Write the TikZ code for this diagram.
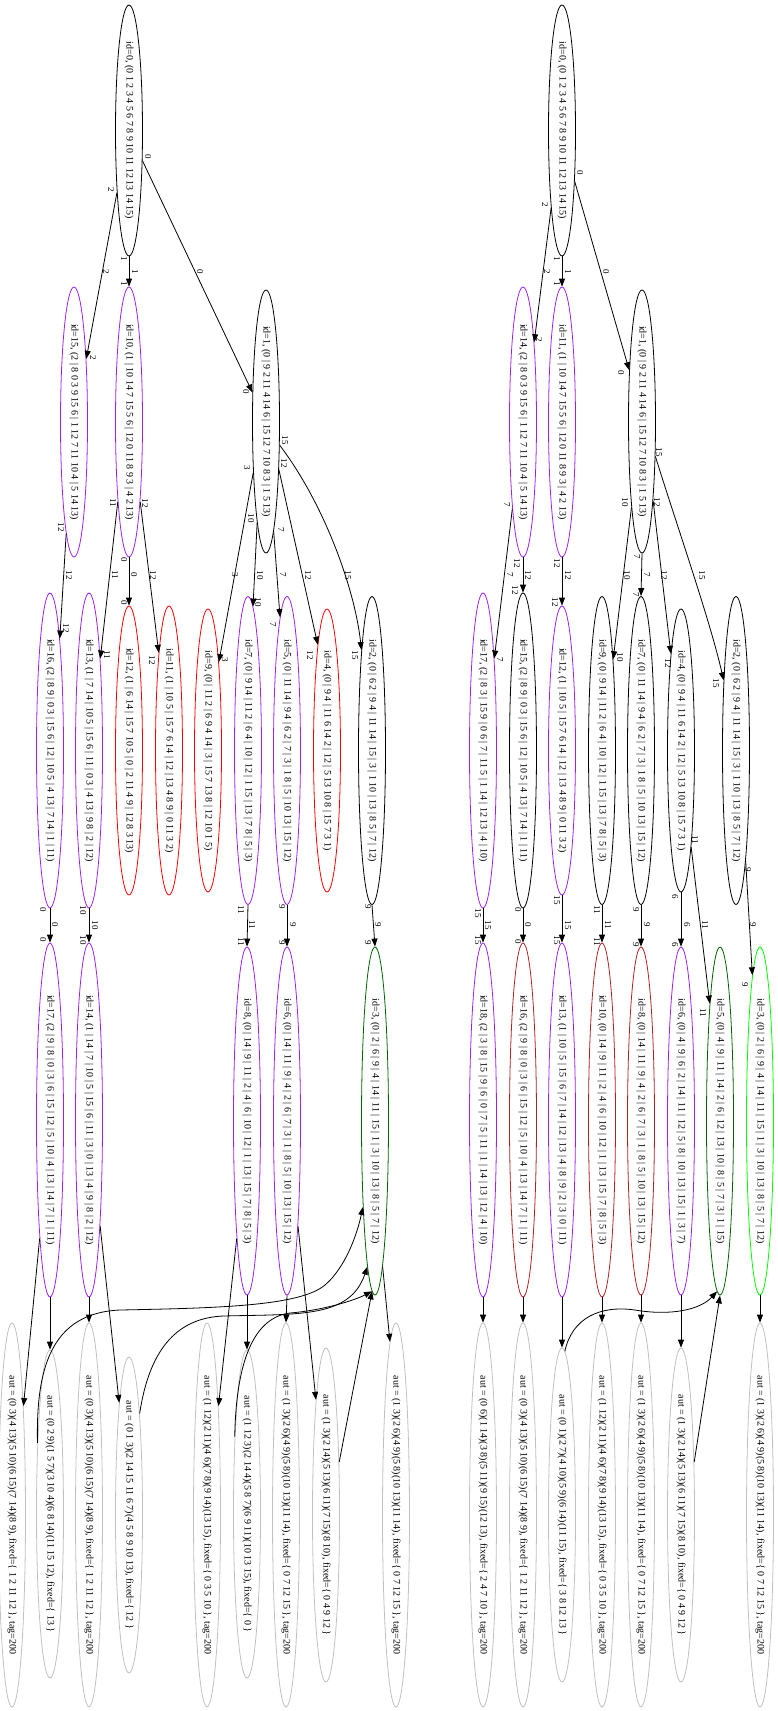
\documentclass[tikz,border=0pt]{standalone}
\usepackage{fontspec}
\setmainfont{Liberation Serif}
\usetikzlibrary{shapes.geometric,arrows.meta}

\definecolor{gvpurple}{HTML}{A020F0}
\definecolor{gvred}{HTML}{FF0000}
\definecolor{gvfire}{HTML}{B22222}
\definecolor{gvdkgreen}{HTML}{006400}
\definecolor{gvgreen}{HTML}{00FF00}
\definecolor{gvgray}{HTML}{C0C0C0}

\tikzset{
  st/.style={ellipse, draw, line width=0.8pt, inner sep=0pt, minimum width=27pt},
  txt/.style={rotate=-90, inner sep=0pt, font=\fontsize{10}{12}\selectfont},
  lab/.style={rotate=-90, inner sep=0pt, font=\fontsize{9}{11}\selectfont},
  edg/.style={line width=0.8pt, -{Triangle[length=8pt,width=6pt]}},
}

% ellipse with its rotated caption: name, colour, x, y, height, text
\newcommand{\gvnode}[6]{%
  \node[st,draw=#2,minimum height=#5] (#1) at (#3,#4) {};
  \node[txt] (#1-txt) at (#1.center) {#6};}

% tail, middle and head labels of one edge: name, text, tx, ty, mx, my, hx, hy
\newcommand{\gvlabels}[8]{%
  \node[lab] (#1-t) at (#3,#4) {#2};
  \node[lab] (#1-m) at (#5,#6) {#2};
  \node[lab] (#1-h) at (#7,#8) {#2};}

\begin{document}
\begin{tikzpicture}[x=1pt,y=-1pt]
\useasboundingbox (0,0) rectangle (777,1711);

% ---------------- left tree ----------------
\gvnode{la0}{black}{129}{130.5}{251}{id=0, (0 1 2 3 4 5 6 7 8 9 10 11 12 13 14 15)}

\gvnode{la15}{gvpurple}{74}{422}{270}{id=15, (2 | 8 0 3 9 15 6 | 1 12 7 11 10 4 | 5 14 13)}
\gvnode{la10}{gvpurple}{129}{422}{270}{id=10, (1 | 10 14 7 15 5 6 | 12 0 11 8 9 3 | 4 2 13)}
\gvnode{la1}{black}{266}{421.5}{263}{id=1, (0 | 9 2 11 4 14 6 | 15 12 7 10 8 3 | 1 5 13)}

\gvnode{la16}{gvpurple}{50}{750.5}{315}{id=16, (2 | 8 9 | 0 3 | 15 6 | 12 | 10 5 | 4 13 | 7 14 | 1 | 11)}
\gvnode{la13}{gvpurple}{89}{750.5}{315}{id=13, (1 | 7 14 | 10 5 | 15 6 | 11 | 0 3 | 4 13 | 9 8 | 2 | 12)}
\gvnode{la12}{gvred}{129}{750.5}{289}{id=12, (1 | 6 14 | 15 7 10 5 | 0 | 2 11 4 9 | 12 8 3 13)}
\gvnode{la11}{gvred}{169}{750.5}{289}{id=11, (1 | 10 5 | 15 7 6 14 | 12 | 13 4 8 9 | 0 11 3 2)}
\gvnode{la9}{gvred}{208}{750.5}{283}{id=9, (0 | 11 2 | 6 9 4 14 | 3 | 15 7 13 8 | 12 10 1 5)}
\gvnode{la7}{gvpurple}{248}{750.5}{308}{id=7, (0 | 9 14 | 11 2 | 6 4 | 10 | 12 | 1 15 | 13 | 7 8 | 5 | 3)}
\gvnode{la5}{gvpurple}{287}{750.5}{308}{id=5, (0 | 11 14 | 9 4 | 6 2 | 7 | 3 | 1 8 | 5 | 10 13 | 15 | 12)}
\gvnode{la4}{gvred}{327}{750.5}{283}{id=4, (0 | 9 4 | 11 6 14 2 | 12 | 5 13 10 8 | 15 7 3 1)}
\gvnode{la2}{black}{372}{750.5}{308}{id=2, (0 | 6 2 | 9 4 | 11 14 | 15 | 3 | 1 10 | 13 | 8 5 | 7 | 12)}

\gvnode{la17}{gvpurple}{50}{1120}{354}{id=17, (2 | 9 | 8 | 0 | 3 | 6 | 15 | 12 | 5 | 10 | 4 | 13 | 14 | 7 | 1 | 11)}
\gvnode{la14}{gvpurple}{89}{1120}{354}{id=14, (1 | 14 | 7 | 10 | 5 | 15 | 6 | 11 | 3 | 0 | 13 | 4 | 9 | 8 | 2 | 12)}
\gvnode{la8}{gvpurple}{247}{1121}{348}{id=8, (0 | 14 | 9 | 11 | 2 | 4 | 6 | 10 | 12 | 1 | 13 | 15 | 7 | 8 | 5 | 3)}
\gvnode{la6}{gvpurple}{287}{1121}{348}{id=6, (0 | 14 | 11 | 9 | 4 | 2 | 6 | 7 | 3 | 1 | 8 | 5 | 10 | 13 | 15 | 12)}
\gvnode{la3}{gvdkgreen}{375}{1121}{348}{id=3, (0 | 2 | 6 | 9 | 4 | 14 | 11 | 15 | 1 | 3 | 10 | 13 | 8 | 5 | 7 | 12)}

\gvnode{lx1}{gvgray}{12}{1515}{384}{aut = (0 3)(4 13)(5 10)(6 15)(7 14)(8 9), fixed=\{ 1 2 11 12 \}, tag=200}
\gvnode{lx2}{gvgray}{50}{1514}{328}{aut = (0 2 9)(1 5 7)(3 10 4)(6 8 14)(11 15 12), fixed=\{ 13 \}}
\gvnode{lx3}{gvgray}{89}{1515}{384}{aut = (0 3)(4 13)(5 10)(6 15)(7 14)(8 9), fixed=\{ 1 2 11 12 \}, tag=200}
\gvnode{lx4}{gvgray}{129}{1515}{316}{aut = (0 1 3)(2 14 15 11 6 7)(4 5 8 9 10 13), fixed=\{ 12 \}}
\gvnode{lx5}{gvgray}{207}{1515}{384}{aut = (1 12)(2 11)(4 6)(7 8)(9 14)(13 15), fixed=\{ 0 3 5 10 \}, tag=200}
\gvnode{lx6}{gvgray}{247}{1514}{328}{aut = (1 12 3)(2 14 4)(5 8 7)(6 9 11)(10 13 15), fixed=\{ 0 \}}
\gvnode{lx7}{gvgray}{286}{1515}{384}{aut = (1 3)(2 6)(4 9)(5 8)(10 13)(11 14), fixed=\{ 0 7 12 15 \}, tag=200}
\gvnode{lx8}{gvgray}{326}{1515}{334}{aut = (1 3)(2 14)(5 13)(6 11)(7 15)(8 10), fixed=\{ 0 4 9 12 \}}
\gvnode{lx9}{gvgray}{396}{1515}{384}{aut = (1 3)(2 6)(4 9)(5 8)(10 13)(11 14), fixed=\{ 0 7 12 15 \}, tag=200}

% tree edges
\draw[edg] (la0.south) -- (la10.north);
\draw[edg] (la0.-101) -- (la15.79.5);
\draw[edg] (la0.-66) -- (la1.115);
\draw[edg] (la15.-94.6) -- (la16.85.9);
\draw[edg] (la10.-98) -- (la13.83.4);
\draw[edg] (la10.south) -- (la12.north);
\draw[edg] (la10.-82) -- (la11.96.4);
\draw[edg] (la1.-104.5) -- (la9.83.8);
\draw[edg] (la1.-95.8) -- (la7.88.6);
\draw[edg] (la1.-86.2) -- (la5.93.6);
\draw[edg] (la1.-75.1) -- (la4.95.7);
\draw[edg] (la1.-60.5) .. controls (325,505) and (355,590) .. (la2.96.1);
\draw[edg] (la16.south) -- (la17.north);
\draw[edg] (la13.south) -- (la14.north);
\draw[edg] (la7.south) -- (la8.north);
\draw[edg] (la5.south) -- (la6.north);
\draw[edg] (la2.south) -- (la3.north);

\draw[edg] (la17.-95.9) -- (lx1.84.2);
\draw[edg] (la17.south) -- (lx2.north);
\draw[edg] (la14.south) -- (lx3.north);
\draw[edg] (la14.-84.3) -- (lx4.95.7);
\draw[edg] (la8.-95.9) -- (lx5.84.2);
\draw[edg] (la8.south) -- (lx6.north);
\draw[edg] (la6.south) -- (lx7.north);
\draw[edg] (la6.-84.2) -- (lx8.95.6);
\draw[edg] (la3.-87.8) -- (lx9.92.8);

% automorphism edges back to the leaf
\draw[edg] (lx2.100.6) .. controls (36,1370) and (50,1313) .. (120,1310)
  .. controls (220,1308) and (300,1306) .. (325,1285)
  .. controls (345,1268) and (357,1235) .. (la3.-98.6);
\draw[edg] (lx4.84.7) .. controls (150,1345) and (180,1318) .. (223,1316)
  .. controls (300,1314) and (350,1318) .. (la3.-93.7);
\draw[edg] (lx6.99.8) .. controls (236,1370) and (250,1318) .. (290,1313)
  .. controls (325,1310) and (355,1300) .. (la3.-91.8);
\draw[edg] (lx8.76.2) -- (la3.-91.5);

% edge labels
\gvlabels{e1}{1}{124}{259}{135}{272}{124}{284}
\gvlabels{e2}{2}{111}{190}{106}{272}{93}{358}
\gvlabels{e3}{0}{148}{157}{200}{272}{246}{392}
\gvlabels{e4}{12}{61}{527}{69}{575}{66}{628}
\gvlabels{e5}{11}{113}{503}{115}{575}{107}{655}
\gvlabels{e6}{0}{124}{560}{134}{575}{124}{603}
\gvlabels{e7}{12}{145}{503}{153}{575}{152}{660}
\gvlabels{e8}{3}{247}{468}{235}{575}{225}{660}
\gvlabels{e9}{10}{251}{518}{260}{575}{258}{602}
\gvlabels{e10}{7}{281}{530}{283}{575}{273}{625}
\gvlabels{e11}{12}{284}{463}{308}{575}{310}{655}
\gvlabels{e12}{15}{285}{440}{348}{575}{355}{655}
\gvlabels{e13}{0}{43}{910}{55}{925}{43}{940}
\gvlabels{e14}{10}{83}{910}{95}{925}{83}{940}
\gvlabels{e15}{11}{241}{910}{252}{925}{241}{942}
\gvlabels{e16}{9}{282}{907}{293}{925}{282}{943}
\gvlabels{e17}{9}{368}{907}{378}{925}{368}{943}

% ---------------- right tree ----------------
\gvnode{ra0}{black}{562}{130.5}{251}{id=0, (0 1 2 3 4 5 6 7 8 9 10 11 12 13 14 15)}

\gvnode{ra14}{gvpurple}{523}{422}{270}{id=14, (2 | 8 0 3 9 15 6 | 1 12 7 11 10 4 | 5 14 13)}
\gvnode{ra11}{gvpurple}{562}{422}{270}{id=11, (1 | 10 14 7 15 5 6 | 12 0 11 8 9 3 | 4 2 13)}
\gvnode{ra1}{black}{642}{421.5}{263}{id=1, (0 | 9 2 11 4 14 6 | 15 12 7 10 8 3 | 1 5 13)}

\gvnode{ra17}{gvpurple}{483}{750.5}{315}{id=17, (2 | 8 3 | 15 9 | 0 6 | 7 | 11 5 | 1 14 | 12 13 | 4 | 10)}
\gvnode{ra15}{black}{523}{750.5}{315}{id=15, (2 | 8 9 | 0 3 | 15 6 | 12 | 10 5 | 4 13 | 7 14 | 1 | 11)}
\gvnode{ra12}{gvpurple}{562}{750.5}{289}{id=12, (1 | 10 5 | 15 7 6 14 | 12 | 13 4 8 9 | 0 11 3 2)}
\gvnode{ra9}{black}{602}{750.5}{308}{id=9, (0 | 9 14 | 11 2 | 6 4 | 10 | 12 | 1 15 | 13 | 7 8 | 5 | 3)}
\gvnode{ra7}{black}{641}{750.5}{308}{id=7, (0 | 11 14 | 9 4 | 6 2 | 7 | 3 | 1 8 | 5 | 10 13 | 15 | 12)}
\gvnode{ra4}{black}{681}{750.5}{283}{id=4, (0 | 9 4 | 11 6 14 2 | 12 | 5 13 10 8 | 15 7 3 1)}
\gvnode{ra2}{black}{736}{750.5}{308}{id=2, (0 | 6 2 | 9 4 | 11 14 | 15 | 3 | 1 10 | 13 | 8 5 | 7 | 12)}

\gvnode{ra18}{gvpurple}{483}{1120}{354}{id=18, (2 | 3 | 8 | 15 | 9 | 6 | 0 | 7 | 5 | 11 | 1 | 14 | 13 | 12 | 4 | 10)}
\gvnode{ra16}{gvfire}{523}{1120}{354}{id=16, (2 | 9 | 8 | 0 | 3 | 6 | 15 | 12 | 5 | 10 | 4 | 13 | 14 | 7 | 1 | 11)}
\gvnode{ra13}{gvpurple}{562}{1120}{354}{id=13, (1 | 10 | 5 | 15 | 6 | 7 | 14 | 12 | 13 | 4 | 8 | 9 | 2 | 3 | 0 | 11)}
\gvnode{ra10}{gvfire}{602}{1120}{354}{id=10, (0 | 14 | 9 | 11 | 2 | 4 | 6 | 10 | 12 | 1 | 13 | 15 | 7 | 8 | 5 | 3)}
\gvnode{ra8}{gvfire}{641}{1121}{348}{id=8, (0 | 14 | 11 | 9 | 4 | 2 | 6 | 7 | 3 | 1 | 8 | 5 | 10 | 13 | 15 | 12)}
\gvnode{ra6}{gvpurple}{681}{1121}{348}{id=6, (0 | 4 | 9 | 6 | 2 | 14 | 11 | 12 | 5 | 8 | 10 | 13 | 15 | 1 | 3 | 7)}
\gvnode{ra5}{gvdkgreen}{720}{1121}{348}{id=5, (0 | 4 | 9 | 11 | 14 | 2 | 6 | 12 | 13 | 10 | 8 | 5 | 7 | 3 | 1 | 15)}
\gvnode{ra3}{gvgreen}{760}{1121}{348}{id=3, (0 | 2 | 6 | 9 | 4 | 14 | 11 | 15 | 1 | 3 | 10 | 13 | 8 | 5 | 7 | 12)}

\gvnode{rx1}{gvgray}{483}{1515}{384}{aut = (0 6)(1 14)(3 8)(5 11)(9 15)(12 13), fixed=\{ 2 4 7 10 \}, tag=200}
\gvnode{rx2}{gvgray}{523}{1515}{384}{aut = (0 3)(4 13)(5 10)(6 15)(7 14)(8 9), fixed=\{ 1 2 11 12 \}, tag=200}
\gvnode{rx3}{gvgray}{562}{1515}{334}{aut = (0 1)(2 7)(4 10)(5 9)(6 14)(11 15), fixed=\{ 3 8 12 13 \}}
\gvnode{rx4}{gvgray}{602}{1515}{384}{aut = (1 12)(2 11)(4 6)(7 8)(9 14)(13 15), fixed=\{ 0 3 5 10 \}, tag=200}
\gvnode{rx5}{gvgray}{641}{1515}{384}{aut = (1 3)(2 6)(4 9)(5 8)(10 13)(11 14), fixed=\{ 0 7 12 15 \}, tag=200}
\gvnode{rx6}{gvgray}{681}{1515}{334}{aut = (1 3)(2 14)(5 13)(6 11)(7 15)(8 10), fixed=\{ 0 4 9 12 \}}
\gvnode{rx7}{gvgray}{760}{1515}{384}{aut = (1 3)(2 6)(4 9)(5 8)(10 13)(11 14), fixed=\{ 0 7 12 15 \}, tag=200}

% tree edges
\draw[edg] (ra0.south) -- (ra11.north);
\draw[edg] (ra0.-98) -- (ra14.82.7);
\draw[edg] (ra0.-76) -- (ra1.104.2);
\draw[edg] (ra14.-97.3) -- (ra17.83.4);
\draw[edg] (ra14.south) -- (ra15.north);
\draw[edg] (ra11.south) -- (ra12.north);
\draw[edg] (ra1.-97.4) -- (ra9.83.3);
\draw[edg] (ra1.south) -- (ra7.north);
\draw[edg] (ra1.-82.6) -- (ra4.96.6);
\draw[edg] (ra1.-69.9) .. controls (675,520) and (710,620) .. (ra2.100.6);
\draw[edg] (ra17.south) -- (ra18.north);
\draw[edg] (ra15.south) -- (ra16.north);
\draw[edg] (ra12.south) -- (ra13.north);
\draw[edg] (ra9.south) -- (ra10.north);
\draw[edg] (ra7.south) -- (ra8.north);
\draw[edg] (ra4.south) -- (ra6.north);
\draw[edg] (ra4.-84.5) -- (ra5.95.9);
\draw[edg] (ra2.-85.3) -- (ra3.93.5);

\draw[edg] (ra18.south) -- (rx1.north);
\draw[edg] (ra16.south) -- (rx2.north);
\draw[edg] (ra13.south) -- (rx3.north);
\draw[edg] (ra10.south) -- (rx4.north);
\draw[edg] (ra8.south) -- (rx5.north);
\draw[edg] (ra6.south) -- (rx6.north);
\draw[edg] (ra3.south) -- (rx7.north);

% automorphism edges back to the leaf
\draw[edg] (rx3.89) .. controls (572,1318) and (600,1305) .. (635,1310)
  .. controls (670,1316) and (700,1310) .. (ra5.-91.8);
\draw[edg] (rx6.76.4) -- (ra5.south);

% edge labels
\gvlabels{f1}{1}{557}{259}{568}{272}{557}{284}
\gvlabels{f2}{2}{545}{205}{547}{272}{539}{340}
\gvlabels{f3}{0}{580}{173}{606}{272}{621}{373}
\gvlabels{f4}{7}{507}{505}{510}{575}{500}{660}
\gvlabels{f5}{12}{517}{563}{528}{575}{515}{590}
\gvlabels{f6}{12}{557}{563}{568}{575}{555}{602}
\gvlabels{f7}{10}{625}{502}{627}{575}{620}{657}
\gvlabels{f8}{7}{637}{557}{647}{575}{636}{595}
\gvlabels{f9}{12}{657}{502}{664}{575}{668}{663}
\gvlabels{f10}{15}{659}{452}{702}{575}{716}{683}
\gvlabels{f11}{15}{478}{913}{488}{925}{478}{940}
\gvlabels{f12}{0}{518}{910}{528}{925}{518}{942}
\gvlabels{f13}{15}{557}{900}{568}{925}{557}{940}
\gvlabels{f14}{11}{597}{910}{608}{925}{597}{942}
\gvlabels{f15}{9}{636}{910}{647}{925}{636}{945}
\gvlabels{f16}{6}{675}{897}{687}{925}{675}{945}
\gvlabels{f17}{11}{695}{840}{705}{925}{703}{1013}
\gvlabels{f18}{9}{748}{870}{753}{925}{745}{985}
\end{tikzpicture}
\end{document}
